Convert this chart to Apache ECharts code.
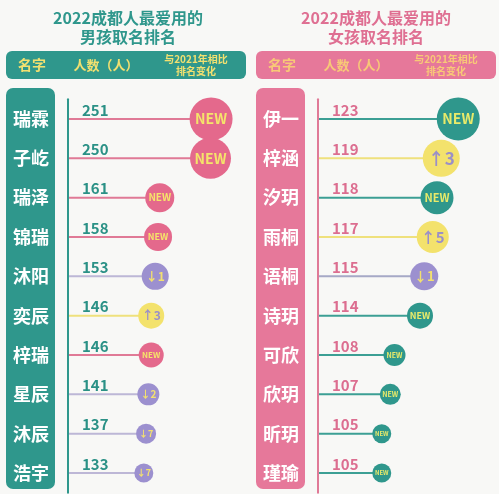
<!DOCTYPE html>
<html><head><meta charset="utf-8">
<script src="https://cdn.jsdelivr.net/npm/echarts@6/dist/echarts.min.js"></script>
<style>html,body{margin:0;padding:0;background:#f8f8f6}#c{width:499px;height:494px}</style>
</head><body><div id="c"></div>
<script>
const boysNames = ['瑞霖','子屹','瑞泽','锦瑞','沐阳','奕辰','梓瑞','星辰','沐辰','浩宇'];
const boysCounts = [251,250,161,158,153,146,146,141,137,133];
const boysChange = ['NEW','NEW','NEW','NEW','↓1','↑3','NEW','↓2','↓7','↓7'];
const girlsNames = ['伊一','梓涵','汐玥','雨桐','语桐','诗玥','可欣','欣玥','昕玥','瑾瑜'];
const girlsCounts = [123,119,118,117,115,114,108,107,105,105];
const girlsChange = ['NEW','↑3','NEW','↑5','↓1','NEW','NEW','NEW','NEW','NEW'];
const boysTitle = ['2022成都人最爱用的','男孩取名排名'];
const girlsTitle = ['2022成都人最爱用的','女孩取名排名'];
const headerLabels = ['名字','人数（人）','与2021年相比\n排名变化'];

// styles
const TEAL = '#2f978c', PINK = '#e4698c', PURPLE = '#9c90cf', YELLOW = '#f3e26c';
const boysSizes = [43,41,29,28,27,26,25,22,20,19];
const girlsSizes = [43,37,33,32,28,26,22,21,19,19];
const FONT = 'Noto Sans CJK SC';

function kind(c){ return c === 'NEW' ? 'new' : (c[0] === '↑' ? 'up' : 'down'); }
function styleFor(side, c){
  const k = kind(c);
  if (k === 'new') return side === 'boys'
    ? {circle: PINK, text: '#f5e46a', stem: '#e07a96'}
    : {circle: TEAL, text: '#e8ea6a', stem: '#3c9f94'};
  if (k === 'up') return {circle: YELLOW, text: '#9a8fc8', stem: '#efe17c'};
  return {circle: PURPLE, text: '#f2e070', stem: side === 'boys' ? '#bdb7d6' : '#a6a9c6'};
}

function buildSeries(side, names, counts, changes, sizes, idx, numColor){
  const bar = {
    type: 'bar', xAxisIndex: idx, yAxisIndex: idx, barWidth: 2, z: 2, clip: true,
    data: counts.map((v,i)=>({value: v, itemStyle: {color: styleFor(side, changes[i]).stem}})),
    label: {show: true, position: 'insideLeft', offset: [9, -9], color: numColor,
      fontSize: 15, fontWeight: 'bold', fontFamily: FONT, formatter: p => String(p.value)}
  };
  const sc = {
    type: 'scatter', xAxisIndex: idx, yAxisIndex: idx, z: 3,
    data: counts.map((v,i)=>{
      const s = styleFor(side, changes[i]);
      const isNew = changes[i] === 'NEW';
      return {
        value: [v, names[i]], symbolSize: sizes[i],
        itemStyle: {color: s.circle, opacity: 1},
        label: {show: true, position: 'inside', formatter: changes[i], color: s.text,
          fontWeight: 'bold', fontFamily: FONT,
          fontSize: Math.round(sizes[i] * (isNew ? 0.33 : 0.46))}
      };
    })
  };
  return [bar, sc];
}

function header(x, fill, color){
  return [
    {type:'rect', z: 1, shape:{x:x, y:51, width:240, height:28, r:6}, style:{fill: fill}},
    {type:'text', z: 2, x: x+26, y: 65, style:{text: headerLabels[0], fill: color, fontSize: 14, fontWeight:'bold', fontFamily: FONT, align:'center', verticalAlign:'middle'}},
    {type:'text', z: 2, x: x+100, y: 65, style:{text: headerLabels[1], fill: color, fontSize: 13, fontWeight:'bold', fontFamily: FONT, align:'center', verticalAlign:'middle'}},
    {type:'text', z: 2, x: x+190, y: 65, style:{text: headerLabels[2], fill: color, fontSize: 10, lineHeight: 12, fontWeight:'bold', fontFamily: FONT, align:'center', verticalAlign:'middle'}}
  ];
}
function titles(cx, t, color){
  return [
    {type:'text', z: 2, x: cx, y: 18, style:{text: t[0], fill: color, fontSize: 16, fontWeight:'bold', fontFamily: FONT, align:'center', verticalAlign:'middle'}},
    {type:'text', z: 2, x: cx, y: 37, style:{text: t[1], fill: color, fontSize: 16, fontWeight:'bold', fontFamily: FONT, align:'center', verticalAlign:'middle'}}
  ];
}

const gridTop = 99.3, gridH = 393.4;
const chart = echarts.init(document.getElementById('c'));
chart.setOption({
  backgroundColor: '#f8f8f6',
  textStyle: {fontFamily: FONT},
  animation: false,
  grid: [
    {left: 68, top: gridTop, width: 171, height: gridH},
    {left: 318, top: gridTop, width: 170, height: gridH}
  ],
  xAxis: [
    {gridIndex: 0, type: 'value', min: 0, max: 300, show: false},
    {gridIndex: 1, type: 'value', min: 90, max: 130, show: false}
  ],
  yAxis: [
    {gridIndex: 0, type: 'category', data: boysNames, inverse: true, z: 10,
      axisLine: {show: true, lineStyle: {color: TEAL, width: 2}}, axisTick: {show: false},
      axisLabel: {align: 'center', margin: 37, color: '#ffffff', fontSize: 18, fontWeight: 'bold', fontFamily: FONT},
      splitLine: {show: false}},
    {gridIndex: 1, type: 'category', data: girlsNames, inverse: true, z: 10,
      axisLine: {show: true, lineStyle: {color: '#e07a97', width: 2}}, axisTick: {show: false},
      axisLabel: {align: 'center', margin: 37, color: '#ffffff', fontSize: 18, fontWeight: 'bold', fontFamily: FONT},
      splitLine: {show: false}}
  ],
  graphic: [
    ...titles(128, boysTitle, TEAL),
    ...titles(376, girlsTitle, '#df6f92'),
    ...header(6, TEAL, '#f2e070'),
    ...header(256, '#e6789a', '#f8c877'),
    {type:'rect', z: 1, shape:{x:6, y:88, width:49, height:401, r:7}, style:{fill: TEAL}},
    {type:'rect', z: 1, shape:{x:256, y:88, width:49, height:401, r:7}, style:{fill: '#e6789a'}}
  ],
  series: [
    ...buildSeries('boys', boysNames, boysCounts, boysChange, boysSizes, 0, '#2b9186'),
    ...buildSeries('girls', girlsNames, girlsCounts, girlsChange, girlsSizes, 1, '#dc6e90')
  ]
});
</script></body></html>
